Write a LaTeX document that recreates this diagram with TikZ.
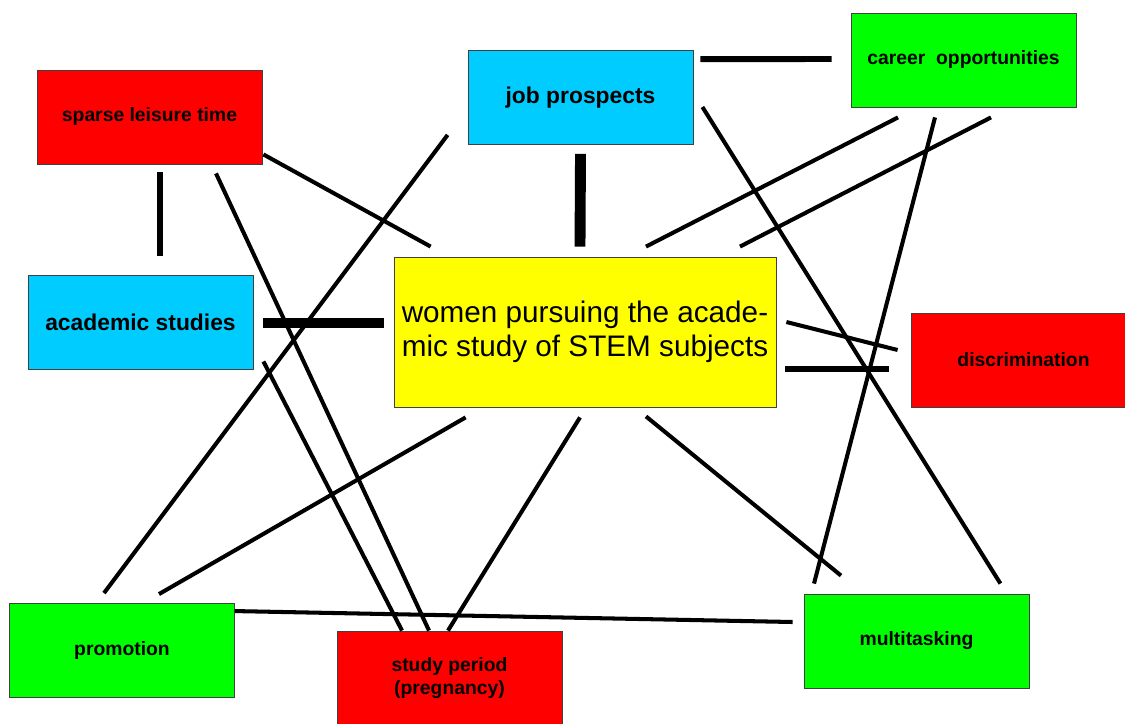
\documentclass[tikz,border=0pt]{standalone}
\usepackage{fontspec}
\setmainfont{Liberation Sans}
\definecolor{boxRed}{RGB}{255,0,0}
\definecolor{boxCyan}{RGB}{0,204,255}
\definecolor{boxGreen}{RGB}{0,255,0}
\definecolor{boxYellow}{RGB}{255,255,0}

\begin{document}
\begin{tikzpicture}[
    x=0.02cm, y=-0.02cm,
    boxSize/.style={minimum width=4.5cm, minimum height=1.88cm, inner sep=0pt},
    blueFont/.style={font=\fontsize{13}{15}\selectfont\bfseries},
    thinLink/.style={line width=2.3pt},
    thickLink/.style={line width=3.4pt},
    heavyLink/.style={line width=6.2pt},
    every node/.style={
        draw=black!75, line width=0.5pt,
        text centered,
        font=\fontsize{11}{13}\selectfont\bfseries,
        }
        ]
    \clip (0,0) rectangle (1125,723);

    \node[boxSize, fill=boxRed] (leisure) at (149.5,117) {sparse leisure time};
    \node[boxSize, fill=boxCyan, blueFont] (job) at (580.5,97.5) {job prospects};
    \node[boxSize, fill=boxGreen] (career) at (963.5,60) {career\ \ opportunities};
    \node[boxSize, fill=boxCyan, blueFont] (academic) at (140.5,322) {academic studies};
    \node[minimum width=7.64cm, minimum height=3cm, inner sep=0pt, fill=boxYellow, align=center,
        font=\fontsize{16.9}{19.3}\selectfont] (stem) at (585,332) {women pursuing the acade-\\mic study of STEM subjects};
    \node[boxSize, fill=boxRed] (discrim) at (1023.5,360) {discrimination};
    \node[boxSize, fill=boxGreen] (promo) at (122,650.5) {promotion};
    \node[boxSize, fill=boxRed, align=center] (study) at (449.5,678) {study period\\(pregnancy)};
    \node[boxSize, fill=boxGreen] (multi) at (916.5,641) {multitasking};

    % from sparse leisure time
    \draw[thickLink] ([shift={(10.5,8)}]leisure.south) -- ([shift={(19.5,-19)}]academic.north);
    \draw[thinLink] ([shift={(1,-10)}]leisure.south east) -- ([shift={(37,-10)}]stem.north west);
    \draw[thinLink] ([shift={(66.5,9)}]leisure.south) -- ([shift={(-20.5,0)}]study.north);

    % from academic studies
    \draw[heavyLink] ([shift={(10,1)}]academic.east) -- ([shift={(-10,-9)}]stem.west);
    \draw[thinLink] ([shift={(10,-8)}]academic.south east) -- ([shift={(-47.5,0)}]study.north);

    % from job prospects
    \draw[thickLink] ([shift={(7,9)}]job.north east) -- ([shift={(-19,-1)}]career.west);
    \draw[heavyLink] ([shift={(0,9)}]job.south) -- ([shift={(-5,-10)}]stem.north);
    \draw[thinLink] ([shift={(-20,-10)}]job.south west) -- ([shift={(-18,-10)}]promo.north);
    \draw[thinLink] ([shift={(9,9.5)}]job.east) -- ([shift={(-29,-10)}]multi.north east);

    % from career opportunities
    \draw[thinLink] ([shift={(-65.5,10)}]career.south) -- ([shift={(61,-10)}]stem.north);
    \draw[thinLink] ([shift={(27.5,10)}]career.south) -- ([shift={(155,-10)}]stem.north);
    \draw[thinLink] ([shift={(-28.5,10)}]career.south) -- ([shift={(-102.5,-10)}]multi.north);

    % from the centre
    \draw[thinLink] ([shift={(10,-10)}]stem.east) -- ([shift={(-13,-10)}]discrim.west);
    \draw[thickLink] ([shift={(9,37)}]stem.east) -- ([shift={(-22,9)}]discrim.west);
    \draw[thinLink] ([shift={(72,10)}]stem.south west) -- ([shift={(37,-9)}]promo.north);
    \draw[thinLink] ([shift={(-5,10)}]stem.south) -- ([shift={(-1.5,0)}]study.north);
    \draw[thinLink] ([shift={(61,9)}]stem.south) -- ([shift={(-75.5,-18)}]multi.north);

    % promotion to multitasking
    \draw[thinLink] ([shift={(0,8)}]promo.north east) -- ([shift={(-11,-19)}]multi.west);
\end{tikzpicture}
\end{document}
